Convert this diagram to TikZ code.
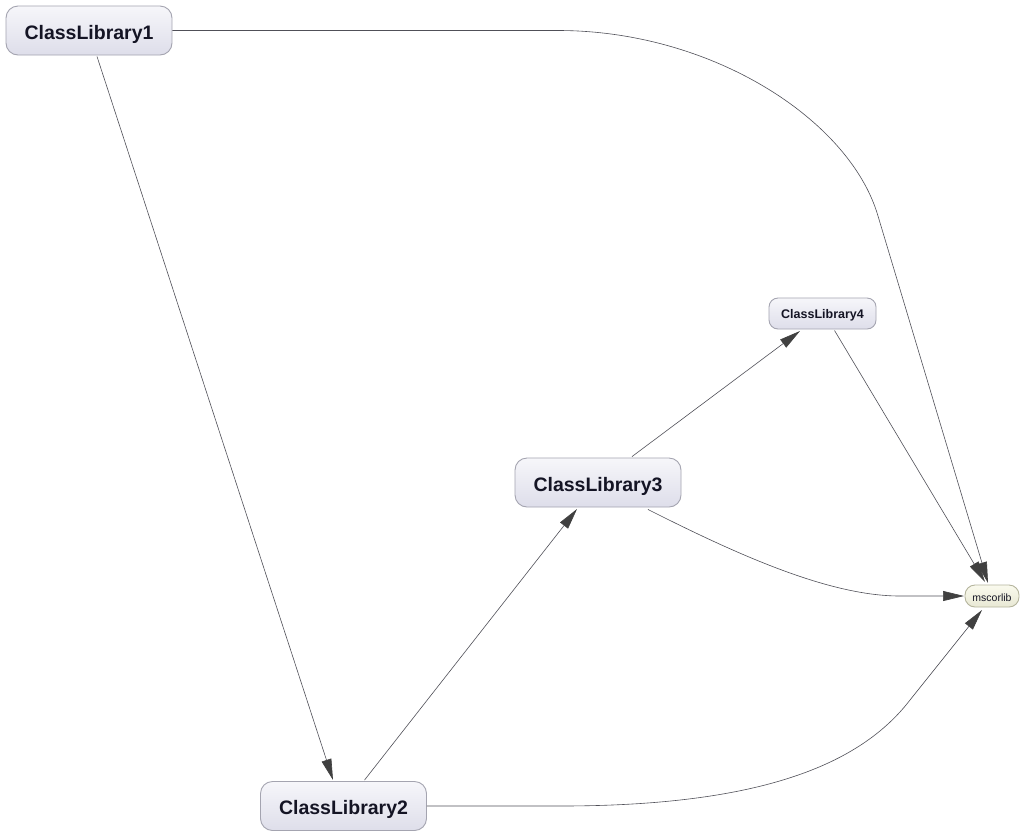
\documentclass[tikz,border=0pt]{standalone}
\usepackage{fontspec}
\setmainfont{Liberation Sans}
\usetikzlibrary{arrows.meta}
\definecolor{edgecol}{HTML}{505058}
\definecolor{tipcol}{HTML}{404040}
\definecolor{nodeborder}{HTML}{A4A4B0}
\definecolor{nodetop}{HTML}{F6F6FA}
\definecolor{nodebot}{HTML}{DEDEEA}
\definecolor{mstop}{HTML}{FAFAEE}
\definecolor{msbot}{HTML}{E8E8D4}
\definecolor{msborder}{HTML}{B4B49C}
\definecolor{txtcol}{HTML}{141424}
\newcommand{\lowr}[2]{\raisebox{-#1}[\height][\depth]{#2}}
\tikzset{
  libbox/.style={draw=nodeborder, line width=0.9pt, rounded corners=12pt,
    top color=nodetop, bottom color=nodebot, text=txtcol,
    font=\bfseries\fontsize{19.5}{22}\selectfont, inner sep=0pt},
  smallbox/.style={draw=nodeborder, line width=0.9pt, rounded corners=9pt,
    top color=nodetop, bottom color=nodebot, text=txtcol,
    font=\bfseries\fontsize{12.5}{14}\selectfont, inner sep=0pt},
  msbox/.style={draw=msborder, line width=0.9pt, rounded corners=10pt,
    top color=mstop, bottom color=msbot, text=txtcol,
    font=\fontsize{10.5}{12}\selectfont, inner sep=0pt},
  dep/.style={draw=edgecol, line width=0.6pt,
    -{Triangle[length=21pt,width=10pt,fill=tipcol,color=tipcol]}}
}
\begin{document}
\begin{tikzpicture}[x=1pt,y=-1pt]
\useasboundingbox[fill=white] (0,0) rectangle (1024,836);
\node[libbox, minimum width=166pt, minimum height=49pt] (c1) at (89,30.5) {\lowr{3.5pt}{ClassLibrary1}};
\node[libbox, minimum width=166pt, minimum height=49pt] (c2) at (343.5,806) {\lowr{3.5pt}{ClassLibrary2}};
\node[libbox, minimum width=166pt, minimum height=49pt] (c3) at (598,482.5) {\lowr{3.5pt}{ClassLibrary3}};
\node[smallbox, minimum width=107pt, minimum height=31pt] (c4) at (822.5,313.5) {\lowr{2pt}{ClassLibrary4}};
\node[msbox, minimum width=54pt, minimum height=22pt] (ms) at (992,596) {\lowr{1.5pt}{mscorlib}};

\coordinate (t1) at (988,583);
\coordinate (t4) at (985,582);
\coordinate (t3) at (964,596);
\coordinate (t2) at (982,610);

% ClassLibrary1 -> mscorlib
\draw[dep] (c1.east) -- (558,30.5) .. controls (712,30.5) and (850,120) .. (878,216) -- (t1);
% ClassLibrary1 -> ClassLibrary2
\draw[dep] (c1.south) ++(8,1) -- (333,780);
% ClassLibrary2 -> ClassLibrary3
\draw[dep] (c2.north) ++(21,-1) -- (577,509);
% ClassLibrary3 -> ClassLibrary4
\draw[dep] (c3.north) ++(34,-1) -- (800,331);
% ClassLibrary4 -> mscorlib
\draw[dep] (c4.south) ++(12,1) -- (t4);
% ClassLibrary3 -> mscorlib
\draw[dep] (c3.south) ++(50,2) .. controls (740,556) and (830,596) .. (900,596) -- (t3);
% ClassLibrary2 -> mscorlib
\draw[dep] (c2.east) -- (560,806) .. controls (760,806) and (860,765) .. (910,700) -- (t2);
\end{tikzpicture}
\end{document}
